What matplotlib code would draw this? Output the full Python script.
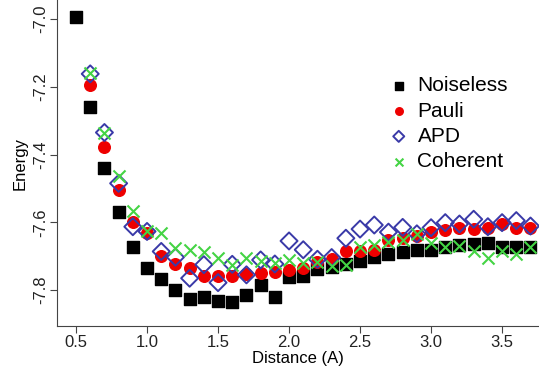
import numpy as np
import matplotlib
matplotlib.use("Agg")
import matplotlib.pyplot as plt

plt.rcParams['font.family'] = ['Liberation Sans', 'DejaVu Sans']

dist = [0.6, 0.7, 0.8, 0.9, 1.0, 1.1, 1.2, 1.3, 1.4, 1.5, 1.6, 1.7, 1.8, 1.9, 2.0,
        2.1, 2.2, 2.3, 2.4, 2.5, 2.6, 2.7, 2.8, 2.9, 3.0, 3.1, 3.2, 3.3, 3.4, 3.5, 3.6, 3.7]
dist_noiseless = [0.5] + dist

noiseless = [-6.993, -7.259, -7.440, -7.571, -7.673, -7.734, -7.768, -7.801, -7.827, -7.821,
             -7.831, -7.835, -7.814, -7.785, -7.820, -7.761, -7.758, -7.737, -7.732, -7.723,
             -7.713, -7.701, -7.693, -7.689, -7.683, -7.681, -7.672, -7.668, -7.664, -7.661,
             -7.672, -7.674, -7.672]
pauli = [-7.195, -7.377, -7.506, -7.598, -7.632, -7.699, -7.724, -7.735, -7.757, -7.759,
         -7.757, -7.754, -7.750, -7.746, -7.740, -7.735, -7.716, -7.708, -7.686, -7.686,
         -7.681, -7.652, -7.647, -7.640, -7.630, -7.622, -7.617, -7.620, -7.617, -7.606,
         -7.617, -7.617]
apd = [-7.162, -7.335, -7.485, -7.613, -7.627, -7.686, -7.703, -7.765, -7.725, -7.778,
       -7.724, -7.755, -7.711, -7.723, -7.655, -7.681, -7.709, -7.704, -7.647, -7.620,
       -7.608, -7.629, -7.615, -7.634, -7.616, -7.601, -7.605, -7.591, -7.613, -7.601,
       -7.595, -7.611]
coherent = [-7.160, -7.335, -7.463, -7.568, -7.627, -7.632, -7.676, -7.683, -7.688, -7.706,
            -7.726, -7.706, -7.713, -7.721, -7.711, -7.721, -7.716, -7.729, -7.726, -7.674,
            -7.667, -7.657, -7.652, -7.634, -7.660, -7.672, -7.670, -7.686, -7.706, -7.686,
            -7.693, -7.672]

fig = plt.figure(figsize=(5.39, 3.70), dpi=100)
ax = fig.add_axes([57 / 539, 44 / 370, 482 / 539, 326 / 370])

ax.scatter(dist_noiseless, noiseless, marker="s", s=75, color="black", label="Noiseless", zorder=2)
ax.scatter(dist, pauli, marker="o", s=70, color="#ee0000", label="Pauli", zorder=3)
ax.scatter(dist, apd, marker="D", s=75, facecolors="none", edgecolors="#3a3aa8",
           linewidths=1.4, label="APD", zorder=4)
ax.scatter(dist, coherent, marker="x", s=75, color="#44d444", linewidths=1.5,
           label="Coherent", zorder=5)

ax.set_xlim(0.366, 3.76)
ax.set_ylim(-7.906, -6.944)
ax.set_xticks([0.5, 1.0, 1.5, 2.0, 2.5, 3.0, 3.5])
ax.set_yticks([-7.0, -7.2, -7.4, -7.6, -7.8])
ax.set_yticklabels(["-7.0", "-7.2", "-7.4", "-7.6", "-7.8"], rotation=90, va="center")
ax.tick_params(labelsize=12, length=5, color="#444444", labelcolor="#222222")
ax.tick_params(axis="x", pad=1.5)
ax.tick_params(axis="y", pad=1.0)
ax.spines["top"].set_visible(False)
ax.spines["right"].set_visible(False)
ax.spines["left"].set_color("#444444")
ax.spines["bottom"].set_color("#444444")

ax.set_xlabel("Distance (A)", fontsize=12, labelpad=1)
ax.set_ylabel("Energy", fontsize=12, labelpad=4)

ax.legend(loc="upper left", bbox_to_anchor=(380 / 539, 1 - 68 / 370),
          bbox_transform=fig.transFigure, frameon=False, fontsize=15,
          markerscale=0.65, handlelength=1.0, handletextpad=0.4,
          labelspacing=0.3, borderaxespad=0)

fig.savefig("out.png", dpi=100)
